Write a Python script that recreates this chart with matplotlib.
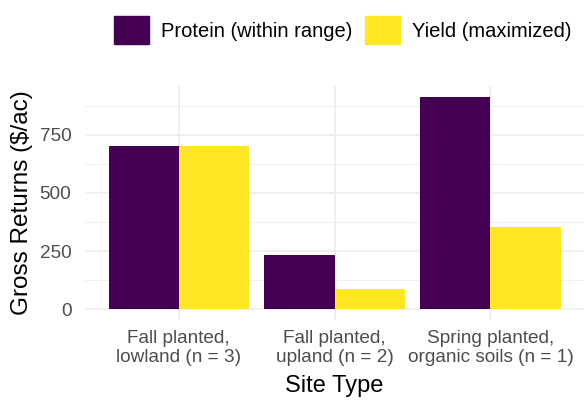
import matplotlib
matplotlib.use("Agg")
import matplotlib.pyplot as plt
import matplotlib.patches as mpatches
import numpy as np

plt.rcParams['font.family'] = ['Liberation Sans', 'DejaVu Sans']

# data
site_types = ["Fall planted,\nlowland (n = 3)",
              "Fall planted,\nupland (n = 2)",
              "Spring planted,\norganic soils (n = 1)"]
protein = [700, 234, 914]
yield_max = [700, 87, 356]
series_names = ["Protein (within range)", "Yield (maximized)"]
colors = ["#440154", "#FDE725"]

fig = plt.figure(figsize=(5.84, 4.0), dpi=100)
ax = fig.add_axes([0.146, 0.2, 0.854, 0.585])

x = np.arange(1, len(site_types) + 1)
w = 0.45
ax.bar(x - w / 2, protein, width=w, color=colors[0], zorder=3)
ax.bar(x + w / 2, yield_max, width=w, color=colors[1], zorder=3)

ymax = max(protein + yield_max)
ax.set_ylim(-0.05 * ymax, 1.05 * ymax)
ax.set_xlim(0.4, 3.6)

ax.set_yticks([0, 250, 500, 750])
ax.set_yticks([125, 375, 625, 875], minor=True)
ax.set_xticks(x)
ax.set_xticklabels(site_types, linespacing=1.15)

ax.grid(True, which='major', color='#EBEBEB', linewidth=1.1, zorder=0)
ax.grid(True, which='minor', axis='y', color='#EBEBEB', linewidth=0.55, zorder=0)
for s in ax.spines.values():
    s.set_visible(False)
ax.tick_params(axis='both', which='both', length=0, labelsize=13.7,
               labelcolor='#4D4D4D')
ax.tick_params(axis='x', pad=7)
ax.tick_params(axis='y', pad=10)

ax.set_xlabel("Site Type", fontsize=17, color='black', labelpad=7)
ax.set_ylabel("Gross Returns ($/ac)", fontsize=17.5, color='black', labelpad=5)

handles = [mpatches.Patch(color=c, label=n) for c, n in zip(colors, series_names)]
fig.legend(handles=handles, loc='center', bbox_to_anchor=(0.587, 0.924), ncol=2,
           frameon=False, fontsize=14.5, handlelength=1.75, handleheight=1.75,
           handletextpad=0.6, columnspacing=0.6)

fig.savefig("out.png", dpi=100)
